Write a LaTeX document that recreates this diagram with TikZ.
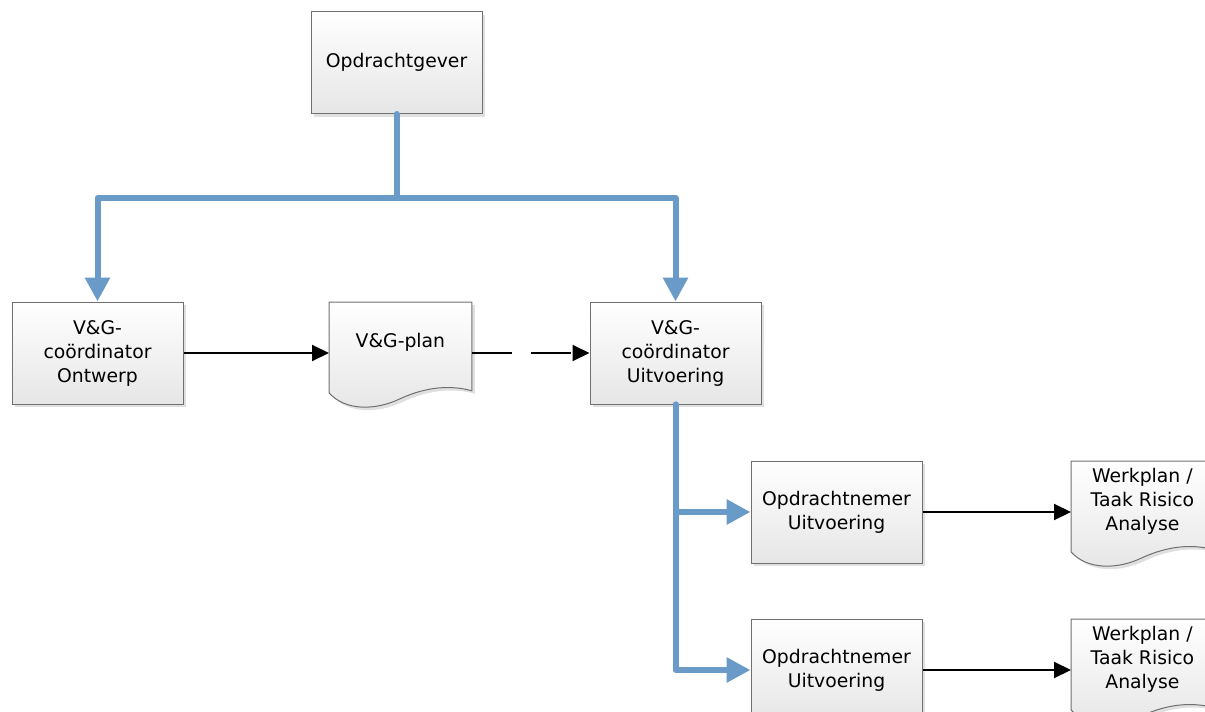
\documentclass[tikz,border=0pt]{standalone}
\usepackage{fontspec}
\setmainfont{DejaVu Sans}
\usepackage{xcolor}
\definecolor{flowblue}{RGB}{106,155,200}
\definecolor{boxline}{RGB}{112,112,112}
\definecolor{boxbottom}{RGB}{230,230,230}
\usepackage{tikz}
\usetikzlibrary{positioning,arrows.meta,calc,shadows}

% document shape with wavy bottom, drawn round a (text) node
\newcommand{\docoutline}[1]{%
\path[docbody] (#1.north west) -- (#1.north east) -- ($(#1.south east)+(0,8)$)
  .. controls ($(#1.south east)+(-21,2)$) and ($(#1.south east)+(-46,4)$) .. ($(#1.south west)+(71,16)$)
  .. controls ($(#1.south west)+(46,28)$) and ($(#1.south west)+(16,28)$) .. ($(#1.south west)+(0,10)$) -- cycle;}

\begin{document}
\begin{tikzpicture}[x=0.5pt,y=-0.5pt,
  every node/.style={font=\fontsize{9.4pt}{12pt}\selectfont, align=center},
  box/.style={draw=boxline, line width=0.5pt, top color=white, bottom color=boxbottom,
    minimum width=85.5pt, minimum height=51pt, inner sep=0pt,
    drop shadow={shadow xshift=1.5pt, shadow yshift=-1.5pt, fill=black, opacity=0.12}},
  doctext/.style={minimum width=71pt, minimum height=40pt, inner sep=0pt, anchor=north west},
  docbody/.style={draw=boxline, line width=0.5pt, top color=white, bottom color=boxbottom,
    drop shadow={shadow xshift=1.5pt, shadow yshift=-1.5pt, fill=black, opacity=0.12}},
  flow/.style={draw=flowblue, line width=3pt, line join=round, line cap=round,
    -{Triangle[width=12pt,length=12pt]}},
  link/.style={line width=1pt, -{Triangle[width=8pt,length=8.5pt]}}]
\useasboundingbox (0,0) rectangle (1205,712);
\clip (0,0) rectangle (1205,712);

% boxes
\node[box] (og) at (396.5,62.5) {Opdrachtgever};
\node[box] (vgo) at (97.5,353) {V\&G-\\coördinator\\Ontwerp};
\node[box] (vgu) at (675.5,353) {V\&G-\\coördinator\\Uitvoering};
\node[box] (on1) at (836.5,512) {Opdrachtnemer\\Uitvoering};
\node[box] (on2) at (836.5,670) {Opdrachtnemer\\Uitvoering};

% documents
\node[doctext] (plan) at (329,302) {};
\docoutline{plan}
\node at (plan) {V\&G-plan};
\node[doctext] (wp1) at (1071,461) {};
\docoutline{wp1}
\node at (wp1) {Werkplan /\\Taak Risico\\Analyse};
\node[doctext] (wp2) at (1071,619) {};
\docoutline{wp2}
\node at (wp2) {Werkplan /\\Taak Risico\\Analyse};

% blue flow
\coordinate (split) at ($(og.south)+(0,84)$);
\draw[flow] (og.south) -- (split) -| (vgo.north);
\draw[flow] (split) -| (vgu.north);
\draw[flow] (vgu.south) |- (on1.west);
\draw[flow] (vgu.south) |- (on2.west);

% black arrows
\draw[link] (vgo.east) -- (vgo.east -| plan.west);
\draw[link, dash pattern=on 20pt off 9.5pt] (vgu.west -| plan.east) -- (vgu.west);
\draw[link] (on1.east) -- (on1.east -| wp1.west);
\draw[link] (on2.east) -- (on2.east -| wp2.west);
\end{tikzpicture}
\end{document}
